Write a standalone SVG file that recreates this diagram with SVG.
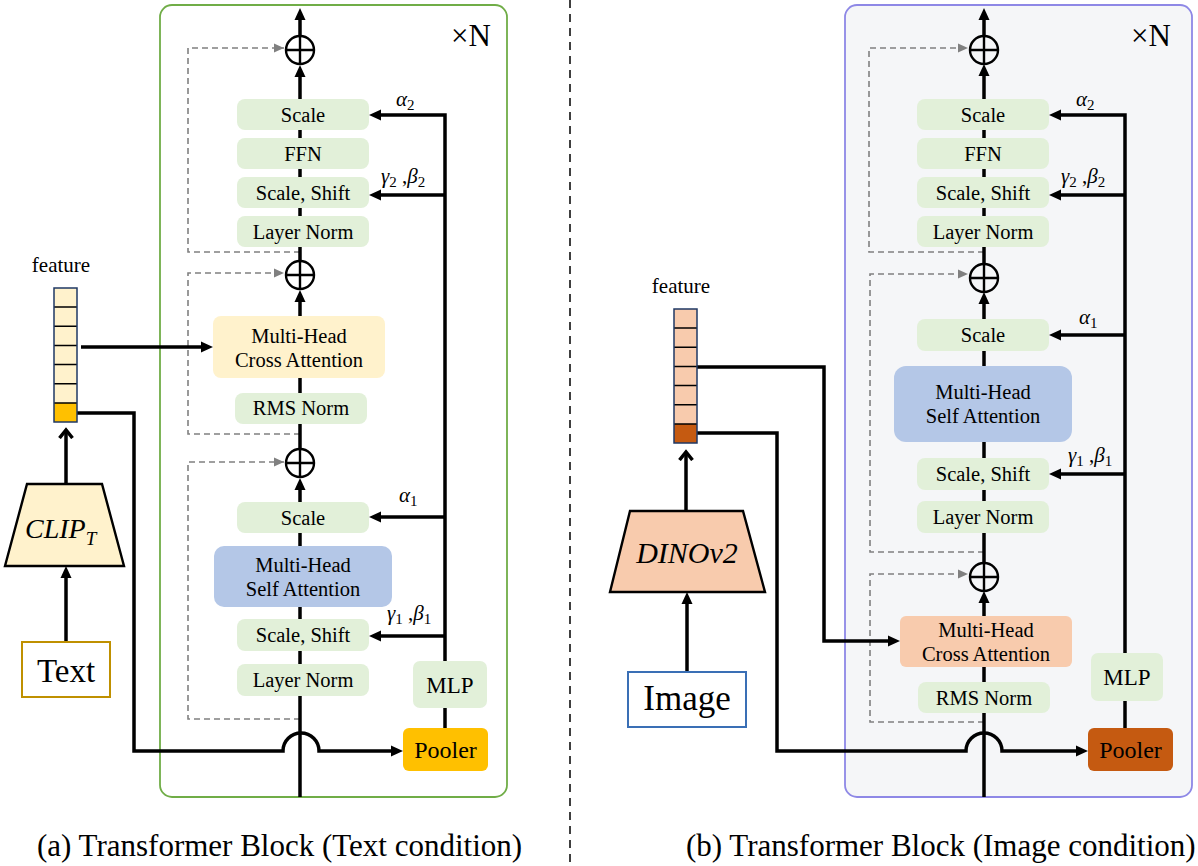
<svg xmlns="http://www.w3.org/2000/svg" width="1198" height="866" viewBox="0 0 1198 866" font-family="'Liberation Serif','DejaVu Serif',serif">
<style>
text{font-family:'Liberation Serif','DejaVu Serif',serif;fill:#000}
.bx{font-size:20.5px;text-anchor:middle}
.g{fill:#e2f0d9}
.ln{fill:none;stroke:#000;stroke-width:3.5}
.dl{fill:none;stroke:#808080;stroke-width:1.6;stroke-dasharray:6 4}
.gr{font-size:21px;font-style:italic}
.sb{font-size:15px;font-style:normal}
.cap{font-size:31px}
</style>
<defs>
<marker id="ah" markerWidth="12" markerHeight="12" refX="5" refY="6" orient="auto" markerUnits="userSpaceOnUse"><path d="M0,0.5 L12,6 L0,11.5 z" fill="#000"/></marker>
<marker id="ahg" markerWidth="10" markerHeight="10" refX="10" refY="5" orient="auto" markerUnits="userSpaceOnUse"><path d="M0,0.5 L10,5 L0,9.5 z" fill="#808080"/></marker>
<marker id="chev" markerWidth="16" markerHeight="16" refX="9" refY="8" orient="auto" markerUnits="userSpaceOnUse"><path d="M1,1.5 L9,8 L1,14.5" fill="none" stroke="#000" stroke-width="3.5"/></marker>
<g id="plus"><circle cx="0" cy="0" r="14" fill="none" stroke="#000" stroke-width="2.4"/><path d="M-14,0 H14 M0,-14 V14" stroke="#000" stroke-width="2.4"/></g>
</defs>
<rect width="1198" height="866" fill="#fff"/>
<g id="panel-a"><rect x="160" y="5" width="347" height="792" rx="12" fill="#fff" stroke="#70ad47" stroke-width="1.8"/>
<text x="451" y="46" font-size="31">×N</text></g>
<g id="panel-b"><rect x="845" y="5" width="347" height="792" rx="12" fill="#f5f6f8" stroke="#8e88e6" stroke-width="1.8"/>
<text x="1131" y="46" font-size="31">×N</text></g>
<line x1="570" y1="0" x2="570" y2="866" stroke="#000" stroke-width="1.5" stroke-dasharray="8 6"/>
<g id="connectors">
<path class="dl" d="M300,252 H188 V48 H284" marker-end="url(#ahg)"/>
<path class="dl" d="M300,434 H188 V273 H284" marker-end="url(#ahg)"/>
<path class="dl" d="M300,719 H188 V462 H284" marker-end="url(#ahg)"/>
<path class="dl" d="M984,252 H869 V48 H968" marker-end="url(#ahg)"/>
<path class="dl" d="M984,552 H870 V274 H968" marker-end="url(#ahg)"/>
<path class="dl" d="M984,722 H870 V574 H968" marker-end="url(#ahg)"/>
<path class="ln" d="M300,797 V485" marker-end="url(#ah)"/>
<path class="ln" d="M300,449 V297" marker-end="url(#ah)"/>
<path class="ln" d="M300,261 V72" marker-end="url(#ah)"/>
<path class="ln" d="M300,36 V15" marker-end="url(#ah)"/>
<path class="ln" d="M445,661 V115 H376" marker-end="url(#ah)"/>
<path class="ln" d="M445,195 H376" marker-end="url(#ah)"/>
<path class="ln" d="M445,517 H376" marker-end="url(#ah)"/>
<path class="ln" d="M445,636 H376" marker-end="url(#ah)"/>
<path class="ln" d="M445,708 V728"/>
<path class="ln" d="M81,347 H206" marker-end="url(#ah)"/>
<path class="ln" d="M77,413 H134 V751 H283 A18,18 0 0 1 319,751 H396" marker-end="url(#ah)"/>
<path class="ln" d="M66,484 V430" marker-end="url(#chev)"/>
<path class="ln" d="M66,642 V573" marker-end="url(#ah)"/>
<path class="ln" d="M984,797 V598" marker-end="url(#ah)"/>
<path class="ln" d="M984,563 V299" marker-end="url(#ah)"/>
<path class="ln" d="M984,264 V71" marker-end="url(#ah)"/>
<path class="ln" d="M984,36 V15" marker-end="url(#ah)"/>
<path class="ln" d="M1125,653 V115 H1056" marker-end="url(#ah)"/>
<path class="ln" d="M1125,195 H1056" marker-end="url(#ah)"/>
<path class="ln" d="M1125,335 H1056" marker-end="url(#ah)"/>
<path class="ln" d="M1125,474 H1056" marker-end="url(#ah)"/>
<path class="ln" d="M1125,701 V728"/>
<path class="ln" d="M697,367 H824 V641 H893" marker-end="url(#ah)"/>
<path class="ln" d="M697,433 H777 V751 H966 A18,18 0 0 1 1002,751 H1081" marker-end="url(#ah)"/>
<path class="ln" d="M686,511 V452" marker-end="url(#chev)"/>
<path class="ln" d="M687,672 V599" marker-end="url(#ah)"/>
</g>
<g id="a-add3"><use href="#plus" x="300" y="50"/></g>
<g id="a-add2"><use href="#plus" x="300" y="275"/></g>
<g id="a-add1"><use href="#plus" x="300" y="463"/></g>
<g id="a-scale2"><rect class="g" x="237" y="99" width="132" height="31" rx="8"/><text class="bx" x="303" y="122">Scale</text></g>
<g id="a-ffn"><rect class="g" x="237" y="138" width="132" height="31" rx="8"/><text class="bx" x="303" y="161">FFN</text></g>
<g id="a-ss2"><rect class="g" x="237" y="177" width="132" height="31" rx="8"/><text class="bx" x="303" y="200">Scale, Shift</text></g>
<g id="a-ln2"><rect class="g" x="237" y="216" width="132" height="31" rx="8"/><text class="bx" x="303" y="239">Layer Norm</text></g>
<g id="a-cross"><rect x="213" y="316" width="172" height="62" rx="8" fill="#fff2cc"/><text class="bx" x="299" y="343">Multi-Head</text><text class="bx" x="299" y="367">Cross Attention</text></g>
<g id="a-rms"><rect class="g" x="235" y="393" width="132" height="31" rx="8"/><text class="bx" x="301" y="415">RMS Norm</text></g>
<g id="a-scale1"><rect class="g" x="237" y="502" width="132" height="31" rx="8"/><text class="bx" x="303" y="525">Scale</text></g>
<g id="a-self"><rect x="214" y="546" width="178" height="61" rx="10" fill="#b4c7e7"/><text class="bx" x="303" y="572">Multi-Head</text><text class="bx" x="303" y="596">Self Attention</text></g>
<g id="a-ss1"><rect class="g" x="237" y="619" width="132" height="32" rx="8"/><text class="bx" x="303" y="642">Scale, Shift</text></g>
<g id="a-ln1"><rect class="g" x="237" y="664" width="132" height="32" rx="8"/><text class="bx" x="303" y="687">Layer Norm</text></g>
<g id="a-mlp"><rect class="g" x="413" y="661" width="74" height="47" rx="7"/><text x="450" y="693" font-size="23" text-anchor="middle">MLP</text></g>
<g id="a-pooler"><rect x="403" y="728" width="85" height="43" rx="6" fill="#ffc000"/><text x="445.5" y="758" font-size="24" text-anchor="middle">Pooler</text></g>
<g id="a-labels">
<text class="gr" x="396" y="106">α<tspan class="sb" dy="4">2</tspan></text>
<text class="gr" x="381" y="183">γ<tspan class="sb" dy="4">2</tspan><tspan dy="-4" font-style="normal"> ,</tspan>β<tspan class="sb" dy="4">2</tspan></text>
<text class="gr" x="399" y="502">α<tspan class="sb" dy="4">1</tspan></text>
<text class="gr" x="387" y="620">γ<tspan class="sb" dy="4">1</tspan><tspan dy="-4" font-style="normal"> ,</tspan>β<tspan class="sb" dy="4">1</tspan></text>
</g>
<g id="a-feature">
<text x="61" y="272" font-size="21" text-anchor="middle">feature</text>
<rect x="54" y="288" width="23" height="134" fill="#fff2cc"/>
<rect x="54" y="403" width="23" height="19" fill="#ffc000"/>
<path d="M54,307.1 H77 M54,326.3 H77 M54,345.4 H77 M54,364.6 H77 M54,383.7 H77 M54,402.9 H77" stroke="#000" stroke-width="1.5"/>
<rect x="54" y="288" width="23" height="134" fill="none" stroke="#1f3864" stroke-width="1.5"/>
</g>
<g id="a-clip"><polygon points="27,484 102,484 124,566 5,566" fill="#fff2cc" stroke="#000" stroke-width="2.4"/>
<text x="25" y="538" font-size="28" font-style="italic">CLIP<tspan font-size="19" dy="7">T</tspan></text></g>
<g id="a-text"><rect x="22" y="642" width="88" height="55" fill="#fff" stroke="#bf9000" stroke-width="2"/><text x="66" y="682" font-size="33" text-anchor="middle">Text</text></g>
<g id="b-add3"><use href="#plus" x="984" y="50"/></g>
<g id="b-add2"><use href="#plus" x="984" y="278"/></g>
<g id="b-add1"><use href="#plus" x="984" y="577"/></g>
<g id="b-scale2"><rect class="g" x="917" y="99" width="132" height="31" rx="8"/><text class="bx" x="983" y="122">Scale</text></g>
<g id="b-ffn"><rect class="g" x="917" y="138" width="132" height="31" rx="8"/><text class="bx" x="983" y="161">FFN</text></g>
<g id="b-ss2"><rect class="g" x="917" y="177" width="132" height="31" rx="8"/><text class="bx" x="983" y="200">Scale, Shift</text></g>
<g id="b-ln2"><rect class="g" x="917" y="216" width="132" height="31" rx="8"/><text class="bx" x="983" y="239">Layer Norm</text></g>
<g id="b-scale1"><rect class="g" x="917" y="319" width="132" height="32" rx="8"/><text class="bx" x="983" y="342">Scale</text></g>
<g id="b-self"><rect x="894" y="366" width="178" height="76" rx="12" fill="#b4c7e7"/><text class="bx" x="983" y="399">Multi-Head</text><text class="bx" x="983" y="423">Self Attention</text></g>
<g id="b-ss1"><rect class="g" x="917" y="458" width="132" height="32" rx="8"/><text class="bx" x="983" y="481">Scale, Shift</text></g>
<g id="b-ln1"><rect class="g" x="917" y="501" width="132" height="32" rx="8"/><text class="bx" x="983" y="524">Layer Norm</text></g>
<g id="b-cross"><rect x="900" y="616" width="172" height="51" rx="6" fill="#f8cbad"/><text class="bx" x="986" y="637">Multi-Head</text><text class="bx" x="986" y="661">Cross Attention</text></g>
<g id="b-rms"><rect class="g" x="918" y="682" width="132" height="31" rx="8"/><text class="bx" x="984" y="705">RMS Norm</text></g>
<g id="b-mlp"><rect class="g" x="1091" y="653" width="72" height="48" rx="7"/><text x="1127" y="685" font-size="23" text-anchor="middle">MLP</text></g>
<g id="b-pooler"><rect x="1088" y="728" width="85" height="43" rx="6" fill="#c55a11"/><text x="1130.5" y="758" font-size="24" text-anchor="middle">Pooler</text></g>
<g id="b-labels">
<text class="gr" x="1076" y="106">α<tspan class="sb" dy="4">2</tspan></text>
<text class="gr" x="1061" y="183">γ<tspan class="sb" dy="4">2</tspan><tspan dy="-4" font-style="normal"> ,</tspan>β<tspan class="sb" dy="4">2</tspan></text>
<text class="gr" x="1079" y="324">α<tspan class="sb" dy="4">1</tspan></text>
<text class="gr" x="1068" y="462">γ<tspan class="sb" dy="4">1</tspan><tspan dy="-4" font-style="normal"> ,</tspan>β<tspan class="sb" dy="4">1</tspan></text>
</g>
<g id="b-feature">
<text x="681" y="293" font-size="21" text-anchor="middle">feature</text>
<rect x="674" y="309" width="23" height="134" fill="#f8cbad"/>
<rect x="674" y="424" width="23" height="19" fill="#c55a11"/>
<path d="M674,328.1 H697 M674,347.3 H697 M674,366.4 H697 M674,385.6 H697 M674,404.7 H697 M674,423.9 H697" stroke="#000" stroke-width="1.5"/>
<rect x="674" y="309" width="23" height="134" fill="none" stroke="#1f3864" stroke-width="1.5"/>
</g>
<g id="b-dino"><polygon points="630,511 743,511 765,592 610,592" fill="#f8cbad" stroke="#000" stroke-width="2.4"/>
<text x="687" y="563" font-size="30" font-style="italic" text-anchor="middle">DINOv2</text></g>
<g id="b-image"><rect x="628" y="672" width="118" height="55" fill="#fff" stroke="#3a6fb5" stroke-width="2"/><text x="687" y="710" font-size="35" text-anchor="middle">Image</text></g>
<text class="cap" x="37" y="856">(a) Transformer Block (Text condition)</text>
<text class="cap" x="686" y="856" font-size="30.6">(b) Transformer Block (Image condition)</text>
</svg>
